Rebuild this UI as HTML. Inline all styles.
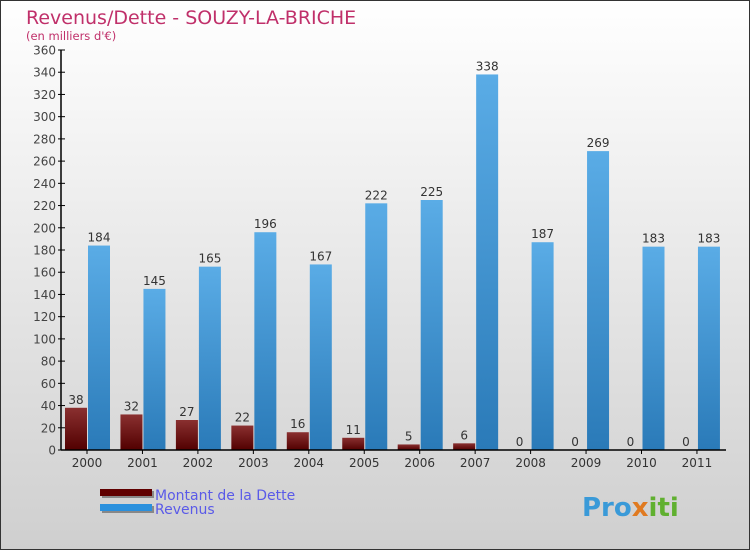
<!DOCTYPE html>
<html><head><meta charset="utf-8"><style>
body{margin:0}
#wrap{width:750px;height:550px;position:relative;overflow:hidden}
text{font-family:"DejaVu Sans","Liberation Sans",sans-serif}
</style></head><body>
<div id="wrap">
<svg id="svg" width="750" height="550" xmlns="http://www.w3.org/2000/svg">
<defs>
<linearGradient id="bg" x1="0" y1="0" x2="0" y2="1"><stop offset="0" stop-color="#ffffff"/><stop offset="1" stop-color="#cfcfcf"/></linearGradient>
<linearGradient id="gd" x1="0" y1="0" x2="0" y2="1"><stop offset="0" stop-color="#8a3030"/><stop offset="1" stop-color="#520000"/></linearGradient>
<linearGradient id="gr" x1="0" y1="0" x2="0" y2="1"><stop offset="0" stop-color="#5aace6"/><stop offset="1" stop-color="#2a7ab8"/></linearGradient>
</defs>
<rect x="0.5" y="0.5" width="749" height="549" fill="url(#bg)" stroke="#333"/>
<text x="26" y="24" font-size="19" fill="#c0306a">Revenus/Dette - SOUZY-LA-BRICHE</text>
<text x="26" y="40" font-size="11.5" fill="#c0306a">(en milliers d'€)</text>
<g id="plot"></g>
<g>
<rect x="102" y="491" width="52" height="7" fill="#888"/>
<rect x="100" y="489" width="52" height="7" fill="#600000"/>
<text x="155" y="500" font-size="14" fill="#5a5ae8">Montant de la Dette</text>
<rect x="102" y="506" width="52" height="7" fill="#888"/>
<rect x="100" y="504" width="52" height="7" fill="#2a90dd"/>
<text x="155" y="514" font-size="14" fill="#5a5ae8">Revenus</text>
</g>
<text x="582" y="516" font-size="26" font-weight="bold" fill="#3a9ad8">Pro<tspan fill="#e07a20">x</tspan><tspan fill="#60b030">iti</tspan></text>
</svg>
</div>
<script>
const categories=["2000","2001","2002","2003","2004","2005","2006","2007","2008","2009","2010","2011"];
const detteValues=[38,32,27,22,16,11,5,6,0,0,0,0];
const revenusValues=[184,145,165,196,167,222,225,338,187,269,183,183];
const yTicks=[0,20,40,60,80,100,120,140,160,180,200,220,240,260,280,300,320,340,360];
const NS="http://www.w3.org/2000/svg";
const g=document.getElementById('plot');
const y0=450,yTop=50,yMax=360;
const yS=v=>y0-v/yMax*(y0-yTop);
const xC=i=>87+i*55.45;
function el(t,a,txt){const e=document.createElementNS(NS,t);for(const k in a)e.setAttribute(k,a[k]);if(txt!==undefined)e.textContent=txt;g.appendChild(e);return e;}
yTicks.forEach(t=>{
 const l=el('line',{x1:58,x2:65,y1:yS(t),y2:yS(t),stroke:'#000'});
 
 
 const tx=el('text',{x:56,y:yS(t)+4.5,'font-size':12,'text-anchor':'end',fill:'#444'},t);
 
 
});
categories.forEach((c,i)=>{
 const x=xC(i);
 const d=detteValues[i],r=revenusValues[i];
 const bd=el('rect',{x:x-22,y:yS(d),width:22,height:y0-yS(d),fill:'url(#gd)'});
 
 
 const br=el('rect',{x:x+1,y:yS(r),width:22,height:y0-yS(r),fill:'url(#gr)'});
 
 
 const ld=el('text',{x:x-11,y:yS(d)-4,'font-size':12,'text-anchor':'middle',fill:'#333'},d);
 
 
 const lr=el('text',{x:x+12,y:yS(r)-4,'font-size':12,'text-anchor':'middle',fill:'#333'},r);
 
 
 const tk=el('line',{x1:x,x2:x,y1:y0,y2:y0+4,stroke:'#000'});
 
 
 const xl=el('text',{x:x,y:467,'font-size':12,'text-anchor':'middle',fill:'#333'},c);
 
 
});
const ya=el('line',{x1:61,x2:61,y1:yTop,y2:y0,stroke:'#000','stroke-width':1.5});


const xa=el('line',{x1:61,x2:726,y1:y0,y2:y0,stroke:'#000','stroke-width':1.5});


</script>
</body></html>
